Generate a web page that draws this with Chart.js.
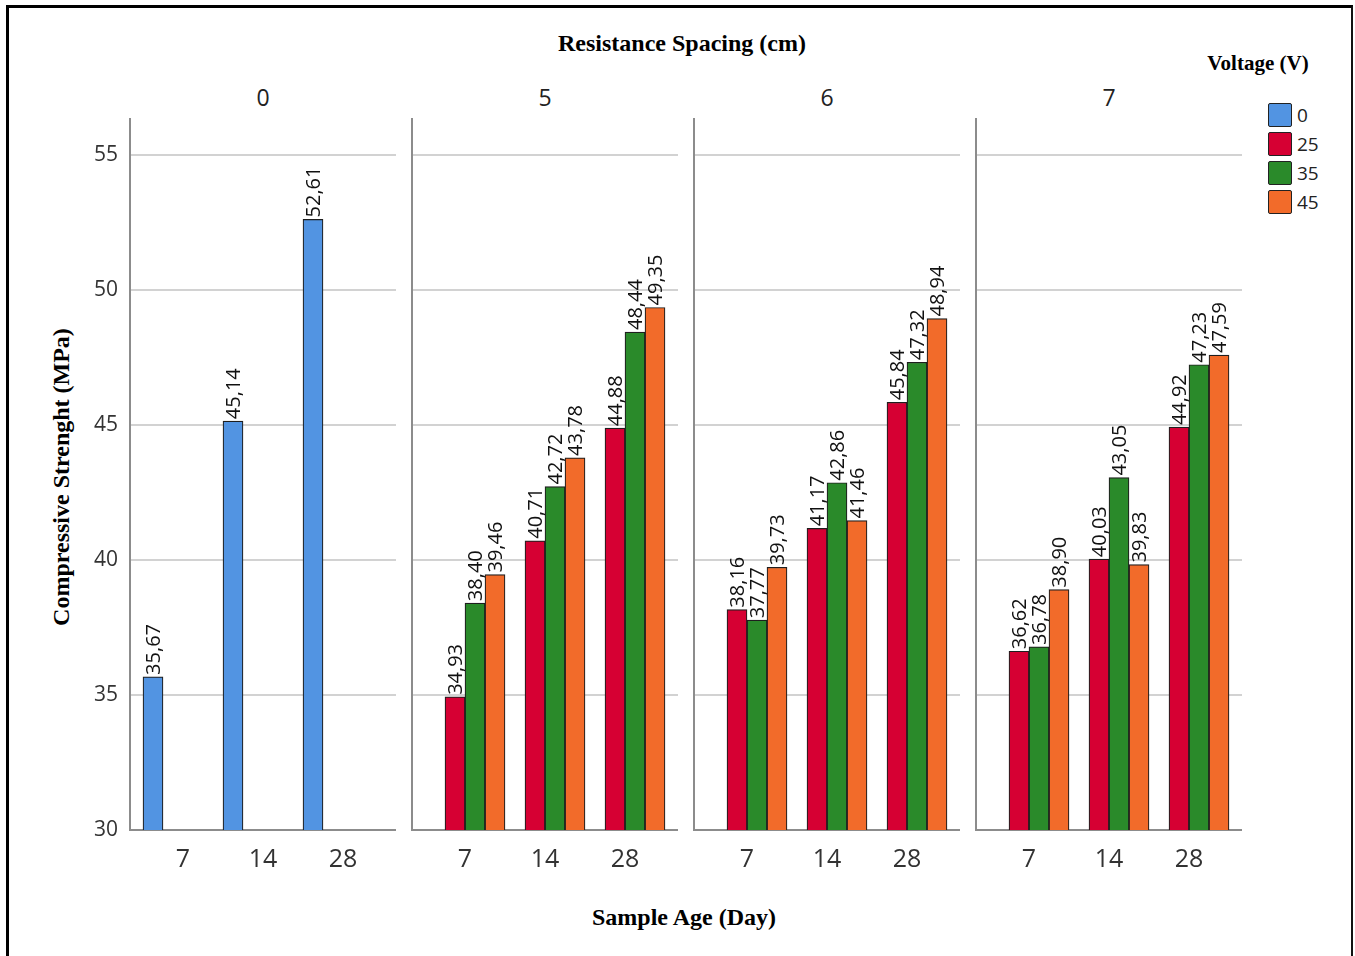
<!DOCTYPE html>
<html>
<head>
<meta charset="utf-8">
<script src="https://cdn.jsdelivr.net/npm/chart.js@4.4.1/dist/chart.umd.min.js"></script>
<style>
  html, body { margin: 0; padding: 0; background: #fff; }
  body { width: 1355px; height: 956px; position: relative; overflow: hidden; }
  .frame { position: absolute; left: 6px; top: 5px; width: 1347px; height: 1000px;
           border-left: 3px solid #000; border-top: 3px solid #000; border-right: 2px solid #111;
           box-sizing: border-box; }
  .ttl { position: absolute; font-family: "Liberation Serif", "Times New Roman", serif; font-weight: bold;
         color: #000; white-space: nowrap; line-height: 1; transform: translate(-50%, -50%); }
  .hdr { position: absolute; font-family: "Open Sans", sans-serif;
         font-size: 23px; color: #222; line-height: 1; transform: translate(-50%, -50%); }
  canvas.panel { position: absolute; }
  .lg-box { position: absolute; width: 24px; height: 24px; box-sizing: border-box; border: 1.5px solid #222; border-radius: 2px; }
  .lg-txt { position: absolute; font-family: "Open Sans", sans-serif; font-size: 19px; color: #222; line-height: 1;
            transform: translateY(-50%); }
</style>
</head>
<body>
<div class="frame"></div>
<div class="ttl" style="left:682px; top:43px; font-size:24px;">Resistance Spacing (cm)</div>
<div class="ttl" style="left:1258px; top:63px; font-size:21px;">Voltage (V)</div>
<div class="ttl" style="left:684px; top:917px; font-size:24px;">Sample Age (Day)</div>
<div class="ttl" style="left:61px; top:477px; font-size:24px; transform: translate(-50%, -50%) rotate(-90deg);">Compressive Strenght (MPa)</div>
<div id="headers"></div>
<div id="legend"></div>
<div id="panels"></div>

<script>
// Resistance spacing groups (cm), sample ages (day) and voltage series (V)
const spacingLabels = ['0', '5', '6', '7'];
const ageLabels = ['7', '14', '28'];
const voltageLabels = ['0', '25', '35', '45'];
const voltageColors = ['#5294e2', '#d60033', '#2a8a2a', '#f26b2a'];
const yTicks = [30, 35, 40, 45, 50, 55];

// Compressive strength (MPa) per spacing group, one row per voltage series
const spacing0 = [[35.67, 45.14, 52.61], [], [], []];
const spacing5 = [[], [34.93, 40.71, 44.88], [38.40, 42.72, 48.44], [39.46, 43.78, 49.35]];
const spacing6 = [[], [38.16, 41.17, 45.84], [37.77, 42.86, 47.32], [39.73, 41.46, 48.94]];
const spacing7 = [[], [36.62, 40.03, 44.92], [36.78, 43.05, 47.23], [38.90, 39.83, 47.59]];
const groups = [spacing0, spacing5, spacing6, spacing7];

// Layout of the four side-by-side panels
const panelLeft = [130, 412, 694, 976];
const panelWidth = 266;
const canvasTop = 100;
const plotTop = 119;
const plotBottom = 830;
const xAxisHeight = 50;
const xPad = 0.6625; // space between the outer clusters and the panel edges, in category units

const headers = document.getElementById('headers');
spacingLabels.forEach((lab, i) => {
  const d = document.createElement('div');
  d.className = 'hdr';
  d.style.left = (panelLeft[i] + panelWidth / 2) + 'px';
  d.style.top = '97px';
  d.textContent = lab;
  headers.appendChild(d);
});

const legend = document.getElementById('legend');
voltageLabels.forEach((lab, i) => {
  const top = 103 + i * 29;
  const b = document.createElement('div');
  b.className = 'lg-box';
  b.style.left = '1268px';
  b.style.top = top + 'px';
  b.style.background = voltageColors[i];
  legend.appendChild(b);
  const t = document.createElement('div');
  t.className = 'lg-txt';
  t.style.left = '1297px';
  t.style.top = (top + 12) + 'px';
  t.textContent = lab;
  legend.appendChild(t);
});

// Rotated value labels sitting on top of each bar
const valueLabels = {
  id: 'valueLabels',
  afterDatasetsDraw(chart) {
    const ctx = chart.ctx;
    ctx.save();
    ctx.font = '20px "Open Sans", sans-serif';
    ctx.fillStyle = '#111';
    ctx.textAlign = 'left';
    ctx.textBaseline = 'alphabetic';
    chart.data.datasets.forEach((ds, di) => {
      const meta = chart.getDatasetMeta(di);
      meta.data.forEach((bar, i) => {
        const v = ds.data[i].y;
        if (v === null || v === undefined) return;
        ctx.save();
        ctx.translate(bar.x, bar.y - 2);
        ctx.rotate(-Math.PI / 2);
        ctx.fillText(v.toFixed(2).replace('.', ','), 0, 7);
        ctx.restore();
      });
    });
    ctx.restore();
  }
};

const panels = document.getElementById('panels');
groups.forEach((series, p) => {
  const yw = p === 0 ? 70 : 10;
  const cv = document.createElement('canvas');
  cv.className = 'panel';
  cv.width = yw + panelWidth;
  cv.height = plotBottom - canvasTop + xAxisHeight;
  cv.style.left = (panelLeft[p] - yw) + 'px';
  cv.style.top = canvasTop + 'px';
  panels.appendChild(cv);

  const datasets = voltageLabels.map((lab, s) => ({
    label: lab,
    data: ageLabels.map((a, i) => ({ x: i, y: series[s][i] === undefined ? null : series[s][i] })),
    backgroundColor: voltageColors[s],
    borderColor: '#1e1e1e',
    borderWidth: 1.2,
    categoryPercentage: 1.0,
    barPercentage: 1.0
  }));

  new Chart(cv, {
    type: 'bar',
    data: { datasets },
    options: {
      responsive: false,
      animation: false,
      layout: { padding: { top: plotTop - canvasTop, left: 0, right: 0, bottom: 0 } },
      plugins: { legend: { display: false }, tooltip: { enabled: false }, title: { display: false } },
      scales: {
        x: {
          type: 'linear',
          offset: false,
          min: -xPad,
          max: ageLabels.length - 1 + xPad,
          grid: { display: false, drawTicks: false },
          border: { display: false },
          afterBuildTicks: (sc) => { sc.ticks = ageLabels.map((a, i) => ({ value: i })); },
          afterFit: (sc) => { sc.height = xAxisHeight; sc.paddingLeft = 0; sc.paddingRight = 0; },
          ticks: {
            padding: 15,
            color: '#333',
            font: { family: '"Open Sans", sans-serif', size: 25 },
            callback: (v) => ageLabels[v]
          }
        },
        y: {
          min: yTicks[0],
          max: 56.33,
          afterBuildTicks: (sc) => { sc.ticks = yTicks.map(v => ({ value: v })); },
          afterFit: (sc) => { sc.width = yw; sc.paddingTop = 0; sc.paddingBottom = 0; },
          grid: {
            drawTicks: false,
            lineWidth: 2,
            color: (c) => (c.tick && c.tick.value === yTicks[0]) ? '#8c8c8c' : '#d2d2d2'
          },
          border: { display: true, color: '#8c8c8c', width: 2 },
          ticks: {
            display: p === 0,
            padding: 12,
            color: '#333',
            font: { family: '"Open Sans", sans-serif', size: 21 }
          }
        }
      }
    },
    plugins: [valueLabels]
  });
});
</script>
</body>
</html>
